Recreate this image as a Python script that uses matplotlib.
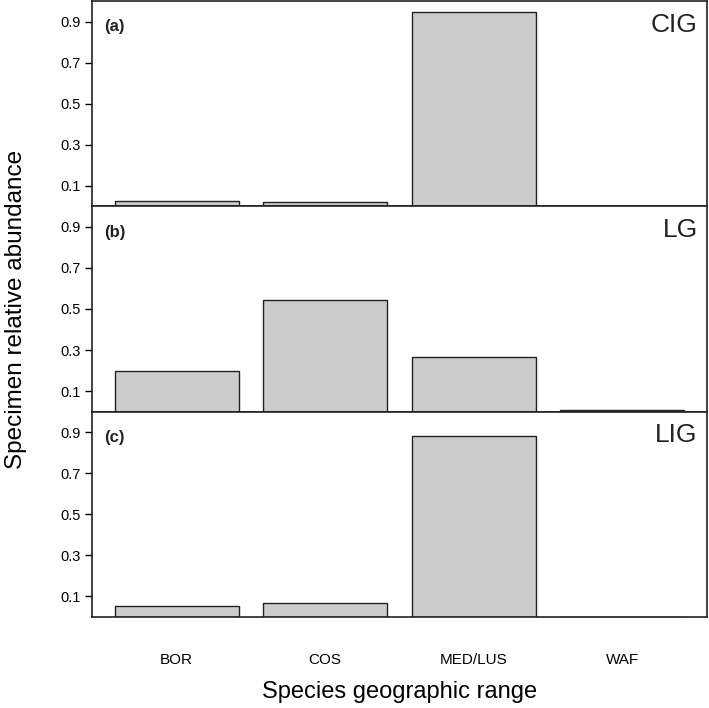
import numpy as np
import matplotlib.pyplot as plt
from matplotlib import font_manager

# data
ranges = ["BOR", "COS", "MED/LUS", "WAF"]
cig = [0.027, 0.020, 0.945, 0.002]
lg = [0.197, 0.542, 0.265, 0.007]
lig = [0.055, 0.068, 0.882, 0.002]
periods = ["CIG", "LG", "LIG"]
tags = ["(a)", "(b)", "(c)"]
yticks = [0.1, 0.3, 0.5, 0.7, 0.9]

names = {f.name for f in font_manager.fontManager.ttflist}
fam = "Liberation Sans Narrow" if "Liberation Sans Narrow" in names else "Liberation Sans"
plt.rcParams['font.family'] = [fam, 'DejaVu Sans']

fig = plt.figure(figsize=(7.09, 7.08), dpi=100)
left, right = 92 / 709, 707 / 709
top, bottom = 1 - 1 / 708, 1 - 617 / 708
h = (top - bottom) / 3

x = np.arange(len(ranges))
w = 1 / 1.2
for i, vals in enumerate([cig, lg, lig]):
    ax = fig.add_axes([left, top - (i + 1) * h, right - left, h])
    ax.bar(x, vals, width=w, color="#cccccc", edgecolor="#222222", linewidth=1.0)
    ax.set_ylim(0, 1.0)
    span = (x[-1] + w / 2) - (x[0] - w / 2)
    ax.set_xlim(x[0] - w / 2 - 0.04 * span, x[-1] + w / 2 + 0.04 * span)
    ax.set_yticks(yticks)
    ax.set_yticklabels([f"{t:.1f}" for t in yticks], fontsize=10.5)
    ax.tick_params(axis='y', direction='out', length=5, width=1, pad=3)
    for s in ax.spines.values():
        s.set_linewidth(1.2)
        s.set_color("#222222")
    ax.text(0.02, 0.875, tags[i], transform=ax.transAxes, fontsize=12,
            fontweight='bold', va='center', ha='left', color="#222222")
    ax.text(0.985, 0.885, periods[i], transform=ax.transAxes, fontsize=19,
            va='center', ha='right', color="#222222")
    if i < 2:
        ax.set_xticks([])
    else:
        ax.set_xticks(x)
        ax.set_xticklabels(ranges, fontsize=11)
        ax.tick_params(axis='x', length=0, pad=26)
        ax.set_xlabel("Species geographic range", fontsize=17, labelpad=10)

fig.text(0.022, (top + bottom) / 2, "Specimen relative abundance", rotation=90,
         fontsize=17.5, va='center', ha='center')

fig.savefig("out.png", dpi=100)
